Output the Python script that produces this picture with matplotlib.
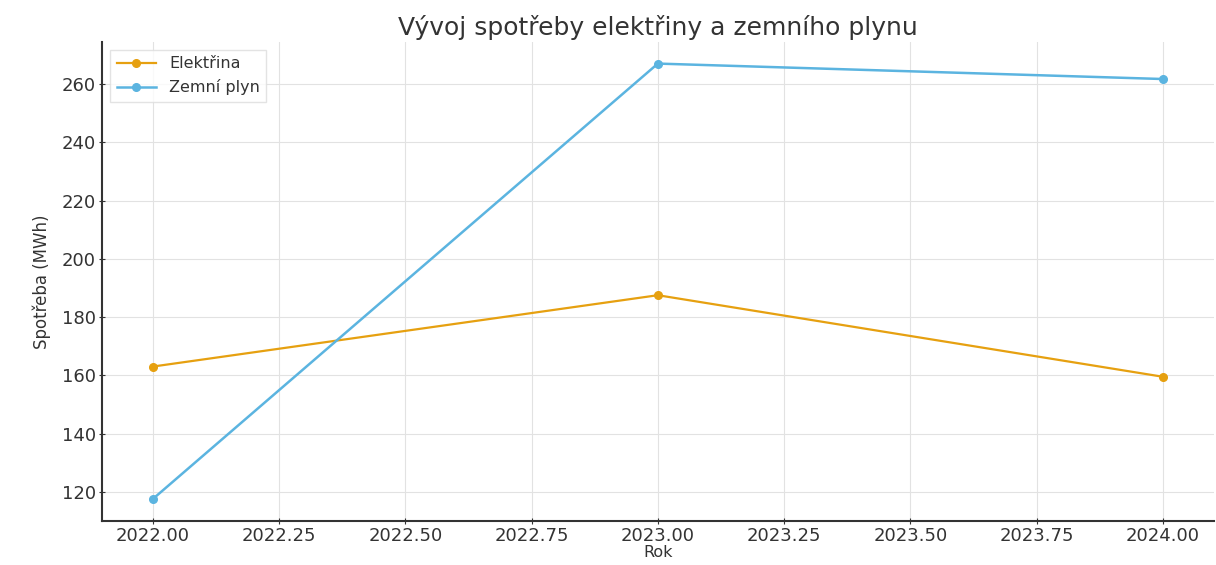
import numpy as np
import matplotlib
matplotlib.use("Agg")
import matplotlib.pyplot as plt

# data
roky = [2022, 2023, 2024]
elektrina = [163.0, 187.5, 159.5]
zemni_plyn = [117.5, 267.0, 261.7]

plt.rcParams['font.family'] = ['DejaVu Sans']

fig = plt.figure(figsize=(12.16, 5.65), dpi=100)
ax = fig.add_axes([0.084, 0.078, 0.914, 0.848])

ax.plot(roky, elektrina, marker='o', color='#E6A010', linewidth=1.6,
        markersize=5.5, label='Elektřina')
ax.plot(roky, zemni_plyn, marker='o', color='#5BB4E0', linewidth=1.8,
        markersize=5.5, label='Zemní plyn')

ax.set_title('Vývoj spotřeby elektřiny a zemního plynu', fontsize=18,
             color='#333333', pad=5)
ax.set_xlabel('Rok', fontsize=11.5, color='#333333', labelpad=0)
ax.set_ylabel('Spotřeba (MWh)', fontsize=12, color='#333333', labelpad=8)

ax.grid(True, color='#e2e2e2', linewidth=0.8)
ax.set_axisbelow(True)
for s in ['top', 'right']:
    ax.spines[s].set_visible(False)
for s in ['left', 'bottom']:
    ax.spines[s].set_color('#333333')
    ax.spines[s].set_linewidth(1.5)
ax.tick_params(axis='both', labelsize=13, colors='#333333', direction='inout',
               length=5, width=0.8, pad=2)
ax.set_xticks(np.arange(2022, 2024.01, 0.25))
ax.set_xticklabels([f'{v:.2f}' for v in np.arange(2022, 2024.01, 0.25)])

leg = ax.legend(loc='upper left', fontsize=11.5, frameon=True, edgecolor='#dddddd',
                fancybox=False, borderpad=0.4, handlelength=2.5)
for t in leg.get_texts():
    t.set_color('#333333')

fig.savefig('out.png', dpi=100)
